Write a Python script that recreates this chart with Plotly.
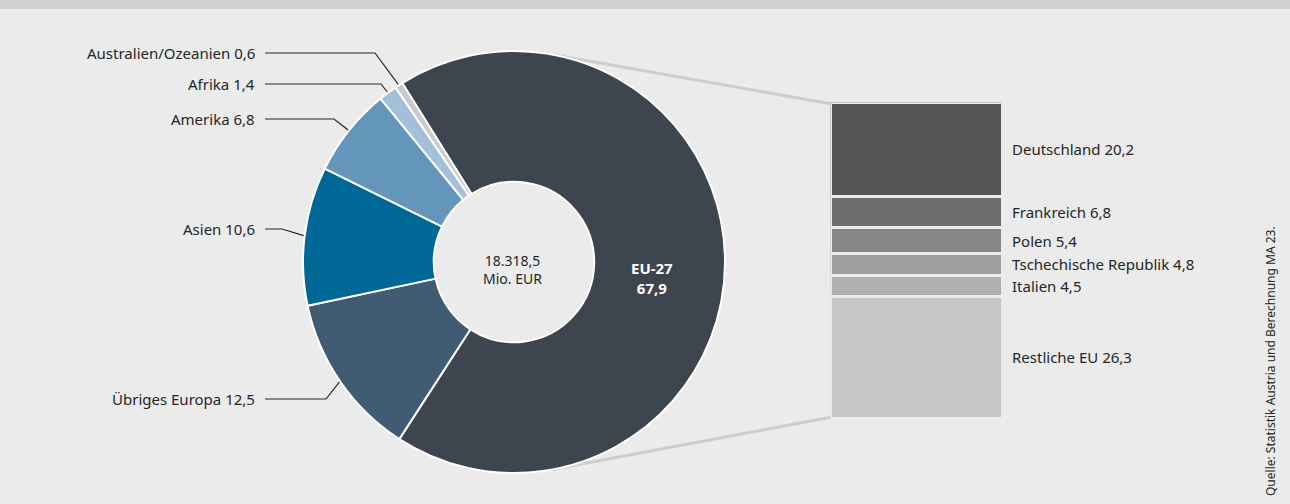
import math
import plotly.graph_objects as go

# ---------------- data ----------------
regions = ["EU-27", "Übriges Europa", "Asien", "Amerika", "Afrika", "Australien/Ozeanien"]
region_values = [67.9, 12.5, 10.6, 6.8, 1.4, 0.6]
region_colors = ["#3d454e", "#415c72", "#006896", "#6496bb", "#a3bfd9", "#c8cacc"]

eu_countries = ["Deutschland", "Frankreich", "Polen", "Tschechische Republik", "Italien", "Restliche EU"]
eu_values = [20.2, 6.8, 5.4, 4.8, 4.5, 26.3]
eu_colors = ["#555555", "#6e6e6e", "#868686", "#9e9e9e", "#b0b0b0", "#c6c6c6"]

total_text = "18.318,5<br>Mio. EUR"
source_text = "Quelle: Statistik Austria und Berechnung MA 23."

def fmt(v):
    return f"{v:.1f}".replace(".", ",")

# ---------------- layout constants (pixels) ----------------
W, H = 1290, 504
BG = "#ebebeb"
FONT = "Noto Sans"
FS = 15
TXT = "#262626"
CX, CY, R = 514, 262, 211
HOLE = 0.38
ROT = -32
BAR_X0, BAR_X1, BAR_Y0, BAR_Y1 = 832, 1001, 104, 417
# outside label placement: (label y px, knee x px)
label_layout = {
    "Australien/Ozeanien": (53, 375),
    "Afrika": (84, 381),
    "Amerika": (119, 334),
    "Asien": (229, 282),
    "Übriges Europa": (399, 326),
}
LABEL_RIGHT = 257
LINE_START = 265

def px(x):
    return x / W

def py(y):
    return 1 - y / H

fig = go.Figure()

fig.add_trace(go.Pie(
    labels=regions, values=region_values, sort=False, direction="clockwise",
    rotation=ROT, hole=HOLE, textinfo="none", hoverinfo="label+value",
    marker=dict(colors=region_colors, line=dict(color="white", width=2)),
    domain=dict(x=[px(CX - R), px(CX + R)], y=[py(CY + R), py(CY - R)]),
    showlegend=False,
))

eu_total = sum(eu_values)
for name, val, col in zip(eu_countries, eu_values, eu_colors):
    fig.add_trace(go.Bar(
        x=[0], y=[val], width=1, marker=dict(color=col, line=dict(color=BG, width=3)),
        xaxis="x2", yaxis="y2", showlegend=False, name=name, hoverinfo="name+y",
    ))

shapes = []
annotations = []

# top band
shapes.append(dict(type="rect", xref="paper", yref="paper", x0=0, x1=1, y0=py(9), y1=1,
                   fillcolor="#d0d2d1", line=dict(width=0), layer="below"))

# connector lines pie -> bar (tangent points on the circle)
tot = sum(region_values)
for ang, by in [(10.4, BAR_Y0), (169.6, BAR_Y1)]:
    sx = CX + R * math.sin(math.radians(ang))
    sy = CY - R * math.cos(math.radians(ang))
    shapes.append(dict(type="line", xref="paper", yref="paper", x0=px(sx), y0=py(sy),
                       x1=px(BAR_X0), y1=py(by), line=dict(color="#cdcdcd", width=3), layer="below"))

# outside labels with leader lines
cum = 0.0
for name, val in zip(regions, region_values):
    a0 = ROT + cum / tot * 360
    cum += val
    a1 = ROT + cum / tot * 360
    mid = math.radians((a0 + a1) / 2)
    if name in label_layout:
        ly, kx = label_layout[name]
        ex = CX + (R + 1) * math.sin(mid)
        ey = CY - (R + 1) * math.cos(mid)
        path = f"M {px(LINE_START)},{py(ly)} L {px(kx)},{py(ly)} L {px(ex)},{py(ey)}"
        shapes.append(dict(type="path", xref="paper", yref="paper", path=path,
                           line=dict(color="#262626", width=1.2)))
        annotations.append(dict(xref="paper", yref="paper", x=px(LABEL_RIGHT), y=py(ly),
                                xanchor="right", yanchor="middle", showarrow=False,
                                text=f"{name} {fmt(val)}", font=dict(family=FONT, size=FS, color=TXT)))

# EU-27 inside label
annotations.append(dict(xref="paper", yref="paper", x=px(652), y=py(278), showarrow=False,
                        xanchor="center", yanchor="middle",
                        text=f"<b>{regions[0]}<br>{fmt(region_values[0])}</b>",
                        font=dict(family=FONT, size=FS, color="white")))
# center total
annotations.append(dict(xref="paper", yref="paper", x=px(CX - 2), y=py(269), showarrow=False,
                        xanchor="center", yanchor="middle",
                        text=total_text, font=dict(family=FONT, size=14, color=TXT)))

# bar labels
c = 0.0
for name, val in zip(eu_countries, eu_values):
    midv = c + val / 2
    c += val
    annotations.append(dict(xref="paper", yref="y2", x=px(1010), y=midv, xanchor="left",
                            yanchor="middle", showarrow=False, text=f"{name} {fmt(val)}",
                            font=dict(family=FONT, size=FS, color=TXT)))

# source
annotations.append(dict(xref="paper", yref="paper", x=px(1270), y=py(361), showarrow=False,
                        xanchor="center", yanchor="middle",
                        textangle=-90, text=source_text, font=dict(family=FONT, size=12, color=TXT)))

fig.update_layout(
    width=W, height=H, margin=dict(l=0, r=0, t=0, b=0),
    paper_bgcolor=BG, plot_bgcolor=BG, barmode="stack", bargap=0,
    xaxis=dict(visible=False),
    yaxis=dict(visible=False),
    xaxis2=dict(domain=[px(BAR_X0 - 1.5), px(BAR_X1 + 1.5)], range=[-0.5, 0.5], visible=False,
                anchor="y2", fixedrange=True),
    yaxis2=dict(domain=[py(BAR_Y1 + 1.5), py(BAR_Y0 - 1.5)], range=[eu_total, 0], visible=False,
                anchor="x2", fixedrange=True),
    shapes=shapes, annotations=annotations,
)

fig.write_html("out.html", config={"displayModeBar": False},
               post_script="document.body.style.margin='0';document.body.style.overflow='hidden';")
